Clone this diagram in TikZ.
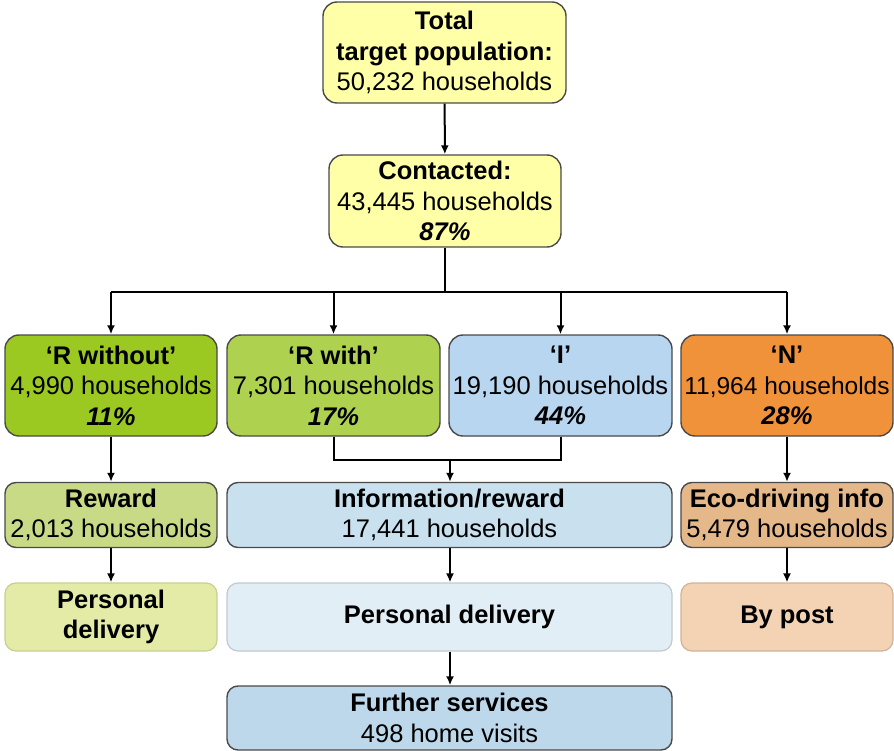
\documentclass[tikz,border=0pt]{standalone}
\usepackage{fontspec}
\setmainfont{Liberation Sans}
\usetikzlibrary{arrows.meta}
\definecolor{cyel}{HTML}{FFFFA8}
\definecolor{crwo}{HTML}{9CC822}
\definecolor{crwi}{HTML}{AED250}
\definecolor{ci}{HTML}{B8D6F0}
\definecolor{cn}{HTML}{F0923A}
\definecolor{crew}{HTML}{C9DA86}
\definecolor{cinfo}{HTML}{C9E1EF}
\definecolor{ceco}{HTML}{E5B889}
\definecolor{cpdl}{HTML}{E3EBA6}
\definecolor{cpdm}{HTML}{E2EEF6}
\definecolor{cpost}{HTML}{F3D3B3}
\definecolor{cfur}{HTML}{BDD8EA}
\definecolor{cbord}{HTML}{4A4A4A}
\begin{document}
\begin{tikzpicture}[x=1pt,y=-1pt,
  box/.style={draw=cbord,line width=1.4pt,rounded corners=14pt,align=center,
    inner sep=0pt,font=\fontsize{25.5}{30.5}\selectfont},
  pale/.style={box,line width=1.2pt},
  arr/.style={line width=2pt,-{Latex[length=9pt,width=8pt]}},
  ln/.style={line width=2pt}]
\useasboundingbox (0,0) rectangle (894,751);
\node[box,fill=cyel,minimum width=243pt,minimum height=101pt] (tot) at (444.5,52.5)
  {\textbf{Total}\\\textbf{target population:}\\50,232 households};
\node[box,fill=cyel,minimum width=232pt,minimum height=92pt] (cont) at (445,201)
  {\textbf{Contacted:}\\43,445 households\\\textbf{\textit{87\%}}};
\node[box,fill=crwo,minimum width=212pt,minimum height=101pt] (rwo) at (111,385.5)
  {\textbf{‘R without’}\\4,990 households\\\textbf{\textit{11\%}}};
\node[box,fill=crwi,minimum width=213pt,minimum height=101pt] (rwi) at (333.5,385.5)
  {\textbf{‘R with’}\\7,301 households\\\textbf{\textit{17\%}}};
\node[box,fill=ci,minimum width=223pt,minimum height=101pt] (ii) at (560.5,385.5)
  {\textbf{‘I’}\\19,190 households\\\textbf{\textit{44\%}}};
\node[box,fill=cn,minimum width=212pt,minimum height=101pt] (nn) at (787,385.5)
  {\textbf{‘N’}\\{\fontsize{24.5}{30.5}\selectfont 11,964 households}\\\textbf{\textit{28\%}}};
\node[box,fill=crew,minimum width=212pt,minimum height=65pt,rounded corners=11pt] (rew) at (111,515)
  {\textbf{Reward}\\2,013 households};
\node[box,fill=cinfo,minimum width=445pt,minimum height=65pt,rounded corners=11pt] (info) at (449.5,515)
  {\textbf{Information/reward}\\17,441 households};
\node[box,fill=ceco,minimum width=212pt,minimum height=65pt,rounded corners=11pt] (eco) at (787,515)
  {\textbf{Eco-driving info}\\5,479 households};
\node[pale,draw=cpdl!80!black!60!cpdl,fill=cpdl,minimum width=212pt,minimum height=68pt,rounded corners=11pt] (pdl) at (111,617)
  {\textbf{Personal}\\\textbf{delivery}};
\node[pale,draw=cpdm!85!black,fill=cpdm,minimum width=445pt,minimum height=68pt,rounded corners=11pt] (pdm) at (449.5,617)
  {\textbf{Personal delivery}};
\node[pale,draw=cpost!85!black,fill=cpost,minimum width=212pt,minimum height=68pt,rounded corners=11pt] (post) at (787,617)
  {\textbf{By post}};
\node[box,fill=cfur,minimum width=445pt,minimum height=64pt,rounded corners=11pt] (fur) at (449.5,718)
  {\textbf{Further services}\\498 home visits};
\coordinate (bus) at (445,292);
\coordinate (mrg) at (450,460);
\draw[arr] (tot) -- (cont);
\draw[ln] (cont.south) -- (bus);
\draw[ln] (rwo.north |- bus) -- (nn.north |- bus);
\draw[arr] (rwo.north |- bus) -- (rwo.north);
\draw[arr] (rwi.north |- bus) -- (rwi.north);
\draw[arr] (ii.north |- bus) -- (ii.north);
\draw[arr] (nn.north |- bus) -- (nn.north);
\draw[ln] (rwi.south) |- (mrg);
\draw[ln] (ii.south) |- (mrg);
\draw[arr] (mrg) -- (info.north -| mrg);
\draw[arr] (rwo) -- (rew);
\draw[arr] (nn) -- (eco);
\draw[arr] (rew) -- (pdl);
\draw[arr] (info.south -| mrg) -- (pdm.north -| mrg);
\draw[arr] (eco) -- (post);
\draw[arr] (pdm.south -| mrg) -- (fur.north -| mrg);
\end{tikzpicture}
\end{document}
